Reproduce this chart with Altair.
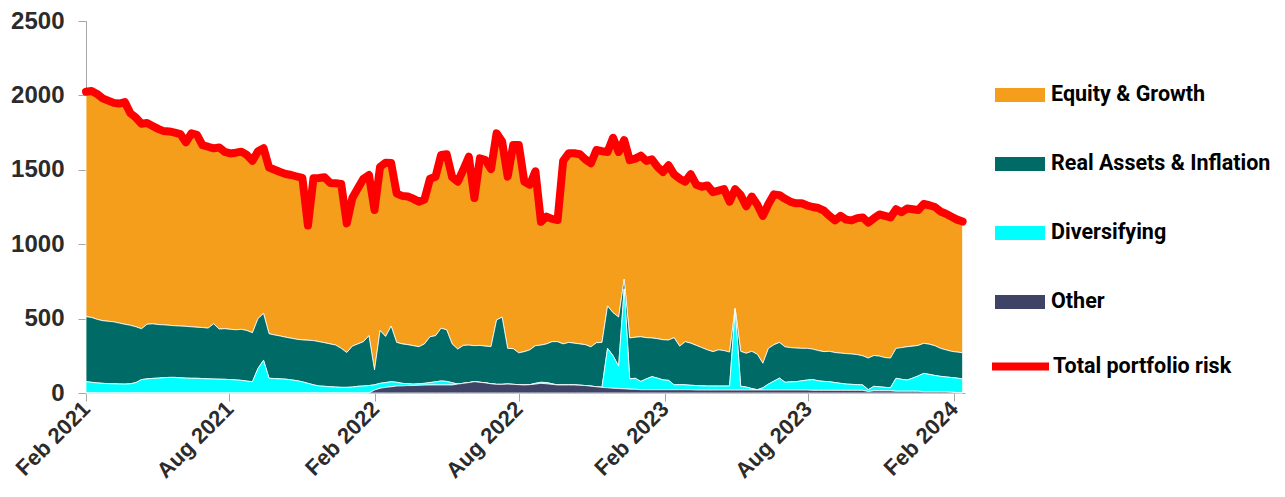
import altair as alt
import pandas as pd

# weekly observation dates (Mondays), Feb 2021 .. Feb 2024
dates = pd.date_range("2021-02-01", periods=159, freq="7D")

total = [
    2025, 2030, 2010, 1980, 1965, 1950, 1945, 1955, 1880, 1850,
    1810, 1815, 1795, 1775, 1760, 1758, 1750, 1740, 1685, 1745,
    1735, 1665, 1655, 1644, 1650, 1620, 1610, 1615, 1622, 1600,
    1560, 1625, 1645, 1515, 1500, 1485, 1472, 1465, 1455, 1445,
    1125, 1443, 1445, 1450, 1412, 1410, 1405, 1140, 1310, 1376,
    1440, 1465, 1230, 1520, 1548, 1545, 1340, 1325, 1320, 1305,
    1286, 1300, 1440, 1454, 1600, 1605, 1450, 1420, 1500, 1588,
    1310, 1577, 1566, 1505, 1745, 1690, 1454, 1667, 1667, 1420,
    1400, 1490, 1150, 1185, 1170, 1163, 1560, 1611, 1611, 1605,
    1570, 1544, 1633, 1625, 1620, 1715, 1620, 1700, 1565, 1575,
    1595, 1560, 1570, 1520, 1485, 1530, 1470, 1440, 1420, 1470,
    1400, 1386, 1395, 1350, 1360, 1370, 1286, 1370, 1330, 1255,
    1320, 1265, 1190, 1270, 1335, 1330, 1305, 1285, 1275, 1275,
    1260, 1250, 1243, 1225, 1190, 1160, 1190, 1165, 1160, 1175,
    1180, 1145, 1174, 1200, 1190, 1180, 1235, 1215, 1240, 1235,
    1230, 1270, 1262, 1250, 1220, 1205, 1185, 1165, 1152,
]

equity = [
    1512, 1522, 1515, 1494, 1483, 1472, 1475, 1493, 1425, 1405,
    1378, 1353, 1330, 1315, 1302, 1303, 1298, 1290, 1237, 1300,
    1293, 1225, 1219, 1179, 1220, 1188, 1182, 1190, 1194, 1180,
    1155, 1125, 1110, 1117, 1110, 1102, 1097, 1097, 1094, 1088,
    770, 1091, 1100, 1112, 1082, 1088, 1105, 868, 995, 1046,
    1095, 1080, 1075, 1100, 1168, 1095, 1000, 995, 995, 987,
    975, 970, 1062, 1069, 1165, 1180, 1120, 1125, 1180, 1266,
    992, 1257, 1251, 1193, 1254, 1180, 1154, 1369, 1397, 1142,
    1110, 1172, 828, 855, 825, 818, 1230, 1271, 1276, 1275,
    1245, 1234, 1295, 1285, 1035, 1175, 1110, 936, 1195, 1200,
    1217, 1188, 1200, 1155, 1127, 1174, 1098, 1125, 1075, 1135,
    1080, 1081, 1105, 1072, 1070, 1085, 1011, 801, 1050, 988,
    1040, 1005, 990, 970, 1010, 990, 995, 980, 973, 975,
    960, 955, 958, 947, 910, 888, 922, 900, 898, 917,
    930, 910, 922, 952, 952, 945, 935, 910, 929, 920,
    910, 936, 934, 932, 920, 915, 905, 890, 881,
]

real_assets = [
    437, 436, 427, 421, 419, 416, 409, 402, 393, 375,
    342, 367, 367, 360, 355, 350, 347, 348, 348, 346,
    343, 343, 341, 371, 337, 340, 338, 337, 343, 340,
    329, 335, 315, 299, 293, 288, 282, 280, 278, 282,
    290, 297, 298, 293, 288, 282, 262, 234, 275, 285,
    298, 335, 100, 355, 310, 374, 268, 265, 263, 258,
    249, 265, 308, 310, 354, 347, 261, 235, 255, 252,
    242, 248, 247, 250, 433, 452, 240, 240, 214, 224,
    234, 253, 250, 260, 283, 291, 276, 286, 281, 278,
    275, 264, 296, 302, 285, 290, 330, 64, 275, 276,
    300, 277, 260, 265, 270, 271, 317, 259, 290, 283,
    270, 257, 243, 231, 243, 238, 228, 9, 235, 227,
    250, 238, 165, 240, 245, 240, 238, 230, 226, 218,
    213, 205, 203, 200, 204, 202, 203, 205, 204, 202,
    196, 213, 207, 206, 200, 199, 201, 213, 224, 215,
    205, 202, 203, 200, 188, 182, 176, 175, 176,
]

diversifying = [
    76, 72, 68, 65, 63, 62, 61, 60, 62, 70,
    90, 95, 98, 100, 103, 105, 105, 102, 100, 99,
    99, 97, 95, 94, 93, 92, 90, 88, 85, 80,
    76, 165, 220, 99, 97, 95, 93, 88, 83, 75,
    65, 55, 47, 45, 42, 40, 38, 38, 40, 45,
    47, 50, 35, 33, 32, 34, 25, 17, 12, 10,
    10, 12, 16, 21, 27, 24, 15, 0, 0, 0,
    0, 0, 0, 0, 0, 0, 0, 0, 0, 0,
    0, 5, 7, 8, 4, 0, 0, 0, 0, 0,
    0, 0, 0, 0, 265, 218, 150, 672, 69, 74,
    56, 73, 88, 78, 66, 63, 33, 34, 33, 30,
    30, 28, 27, 27, 27, 27, 27, 540, 25, 20,
    10, 2, 15, 40, 60, 80, 52, 55, 56, 62,
    67, 72, 64, 60, 58, 52, 47, 42, 40, 38,
    36, 12, 30, 27, 23, 21, 87, 80, 75, 88,
    103, 124, 117, 110, 104, 100, 99, 97, 93,
]

other = [
    0, 0, 0, 0, 0, 0, 0, 0, 0, 0,
    0, 0, 0, 0, 0, 0, 0, 0, 0, 0,
    0, 0, 0, 0, 0, 0, 0, 0, 0, 0,
    0, 0, 0, 0, 0, 0, 0, 0, 0, 0,
    0, 0, 0, 0, 0, 0, 0, 0, 0, 0,
    0, 0, 20, 32, 38, 42, 47, 48, 50, 50,
    52, 53, 54, 54, 54, 54, 54, 60, 65, 70,
    76, 72, 68, 62, 58, 58, 60, 58, 56, 54,
    56, 60, 65, 62, 58, 54, 54, 54, 54, 52,
    50, 46, 42, 38, 35, 32, 30, 28, 26, 25,
    22, 22, 22, 22, 22, 22, 22, 22, 22, 22,
    20, 20, 20, 20, 20, 20, 20, 20, 20, 20,
    20, 20, 20, 20, 20, 20, 20, 20, 20, 20,
    20, 18, 18, 18, 18, 18, 18, 18, 18, 18,
    18, 10, 15, 15, 15, 15, 12, 12, 12, 12,
    12, 8, 8, 8, 8, 8, 5, 3, 2,
]

series_names = ["Equity & Growth", "Real Assets & Inflation", "Diversifying", "Other"]
series_colors = ["#F59E1C", "#006B66", "#00FFFF", "#3F4466"]
stack_rank = {"Other": 0, "Diversifying": 1, "Real Assets & Inflation": 2, "Equity & Growth": 3}
line_name = "Total portfolio risk"

frames = []
for name, vals in zip(series_names, [equity, real_assets, diversifying, other]):
    frames.append(pd.DataFrame({"date": dates, "value": vals, "series": name,
                                "rank": stack_rank[name]}))
long_df = pd.DataFrame(pd.concat(frames, ignore_index=True))
total_df = pd.DataFrame({"date": dates, "total": total, "label": line_name})

tick_dates = [alt.DateTime(year=y, month=m, date=1)
              for y, m in [(2021, 2), (2021, 8), (2022, 2), (2022, 8),
                           (2023, 2), (2023, 8), (2024, 2)]]
x_domain = [alt.DateTime(year=2021, month=2, date=1), alt.DateTime(year=2024, month=2, date=15)]

axis_font = "Liberation Sans"
legend_font = "Roboto"

x_enc = alt.X("date:T", title=None,
              scale=alt.Scale(domain=x_domain, nice=False),
              axis=alt.Axis(values=tick_dates, format="%b %Y", labelAngle=-45,
                            labelAlign="right", labelBaseline="middle",
                            labelPadding=4, tickSize=8, grid=False,
                            labelFont=axis_font, labelFontSize=22,
                            labelFontWeight="bold",
                            labelColor="#2b2b2b", domainColor="#a6a6a6",
                            tickColor="#a6a6a6", labelFlush=False,
                            labelOverlap=False))

area = alt.Chart(long_df).mark_area(stroke="white", strokeWidth=0.8,
                                    interpolate="linear").encode(
    x=x_enc,
    y=alt.Y("value:Q", stack="zero", title=None,
            scale=alt.Scale(domain=[0, 2500], nice=False),
            axis=alt.Axis(values=[0, 500, 1000, 1500, 2000, 2500], grid=False,
                          format="d", tickSize=8, labelPadding=14,
                          labelFont=axis_font, labelFontSize=24,
                          labelFontWeight="bold", labelColor="#2b2b2b",
                          domainColor="#a6a6a6", tickColor="#a6a6a6")),
    color=alt.Color("series:N",
                    scale=alt.Scale(domain=series_names, range=series_colors),
                    legend=alt.Legend(title=None, orient="none", legendX=909, legendY=49,
                                      symbolType="M-1,-0.28H1V0.28H-1Z",
                                      symbolSize=2500, symbolStrokeWidth=0,
                                      rowPadding=33, labelOffset=6, padding=0,
                                      labelFont=legend_font, labelFontSize=21.5,
                                      labelFontWeight="bold", labelColor="#000000",
                                      labelLimit=400, symbolOpacity=1)),
    order=alt.Order("rank:Q", sort="ascending"),
)

line = alt.Chart(total_df).mark_line(strokeWidth=8, strokeCap="round",
                                     strokeJoin="round").encode(
    x=alt.X("date:T"),
    y=alt.Y("total:Q"),
    stroke=alt.Stroke("label:N",
                      scale=alt.Scale(domain=[line_name], range=["#FF0000"]),
                      legend=alt.Legend(title=None, orient="none", legendX=902, legendY=313,
                                        symbolType="M-1,0H1", symbolSize=3249,
                                        symbolStrokeWidth=8, labelOffset=0, padding=0,
                                        labelFont=legend_font, labelFontSize=21.5,
                                        labelFontWeight="bold", labelColor="#000000",
                                        labelLimit=400)),
)

chart = alt.layer(area, line).properties(
    width=879, height=372,
    autosize=alt.AutoSizeParams(type="none"),
    padding={"left": 78, "top": 13, "right": 310, "bottom": 92},
).configure_view(strokeWidth=0)

chart.save("out.html", embed_options={"renderer": "svg", "actions": False})
